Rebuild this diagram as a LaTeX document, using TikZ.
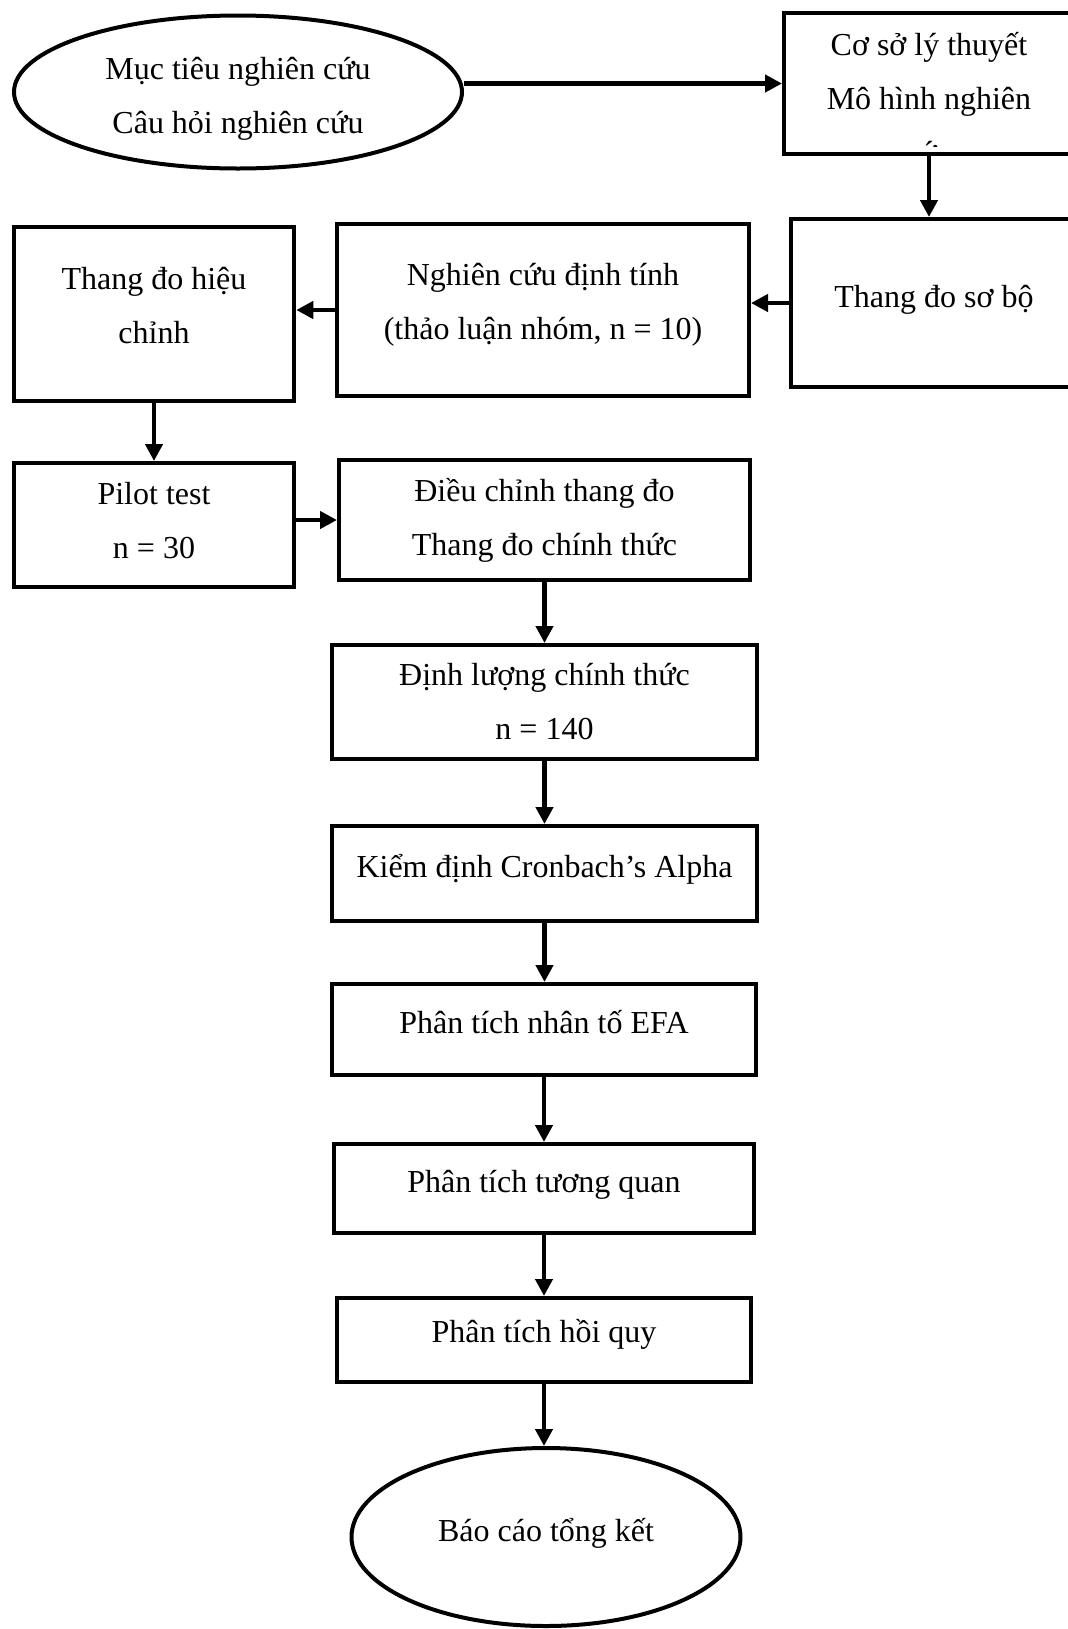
\documentclass[tikz,border=0pt]{standalone}
\usepackage{fontspec}
\setmainfont{Liberation Serif}
\usetikzlibrary{arrows.meta,shapes.geometric}

\begin{document}
\begin{tikzpicture}[x=0.5pt,y=-0.5pt,
  box/.style={draw,line width=2pt,rectangle,align=center,inner sep=0pt},
  oval/.style={draw,line width=2pt,ellipse,align=center,inner sep=0pt},
  single/.style={text height=12pt,text depth=8pt},
  lines/.style 2 args={text height=#1,text depth=#2},
  arr/.style={line width=2.25pt,-{Triangle[length=8.5pt,width=8.5pt]}},
  font={\fontsize{16}{27}\selectfont}]
\useasboundingbox (0,0) rectangle (1067,1629);

% top row
\node[oval,lines={41.4pt}{0pt},minimum width=224pt,minimum height=76.5pt] (mt) at (238,92)
  {Mục tiêu nghiên cứu\\Câu hỏi nghiên cứu};
\node[box,minimum width=145pt,minimum height=70.5pt] (coso) at (929,83.5) {};
\begin{scope}
  \clip ([shift={(1pt,-1pt)}]coso.north west) rectangle ([shift={(-1pt,5pt)}]coso.south east);
  \node[align=center] (cosotext) at (929,98) {Cơ sở lý thuyết\\Mô hình nghiên\\cứu};
\end{scope}

% second row
\node[box,single,minimum width=143pt,minimum height=84pt] (sobo) at (934,303) {Thang đo sơ bộ};
\node[box,lines={36pt}{6.4pt},minimum width=206pt,minimum height=86pt] (dinhtinh) at (543,310)
  {Nghiên cứu định tính\\(thảo luận nhóm, n = 10)};
\node[box,lines={34pt}{4.8pt},minimum width=140.25pt,minimum height=87pt] (hieuchinh) at (154,314)
  {Thang đo hiệu\\chỉnh};

% third row
\node[box,lines={38pt}{4.7pt},minimum width=140.25pt,minimum height=62pt] (pilot) at (154,525)
  {Pilot test\\n = 30};
\node[box,minimum width=205.5pt,minimum height=60pt] (dieuchinh) at (544.5,520)
  {Điều chỉnh thang đo\\Thang đo chính thức};

% main column
\node[box,minimum width=212.5pt,minimum height=57pt] (dinhluong) at (544.5,702)
  {Định lượng chính thức\\n = 140};
\node[box,single,minimum width=212.5pt,minimum height=47.5pt] (kiemdinh) at (544.5,873.5)
  {Kiểm định Cronbach’s Alpha};
\node[box,single,minimum width=212pt,minimum height=45.5pt] (efa) at (544,1029.5)
  {Phân tích nhân tố EFA};
\node[box,single,minimum width=210pt,minimum height=44.5pt] (tuongquan) at (544,1188.5)
  {Phân tích tương quan};
\node[box,lines={12pt}{10pt},minimum width=207pt,minimum height=42pt] (hoiquy) at (544,1340)
  {Phân tích hồi quy};
\node[oval,single,minimum width=194.5pt,minimum height=89pt] (baocao) at (546,1537)
  {Báo cáo tổng kết};

% connectors
\draw[arr] (coso.west -| mt.east) -- (coso.west);
\draw[arr] (coso.south) -- (coso.south |- sobo.north);
\draw[arr] (sobo.west) -- (sobo.west -| dinhtinh.east);
\draw[arr] (dinhtinh.west) -- (dinhtinh.west -| hieuchinh.east);
\draw[arr] (hieuchinh.south) -- (pilot.north);
\draw[arr] (dieuchinh.west -| pilot.east) -- (dieuchinh.west);
\foreach \a/\b in {dieuchinh/dinhluong,dinhluong/kiemdinh,kiemdinh/efa,efa/tuongquan,tuongquan/hoiquy,hoiquy/baocao}
  \draw[arr] (\a.south) -- (\a.south |- \b.north);
\end{tikzpicture}
\end{document}
